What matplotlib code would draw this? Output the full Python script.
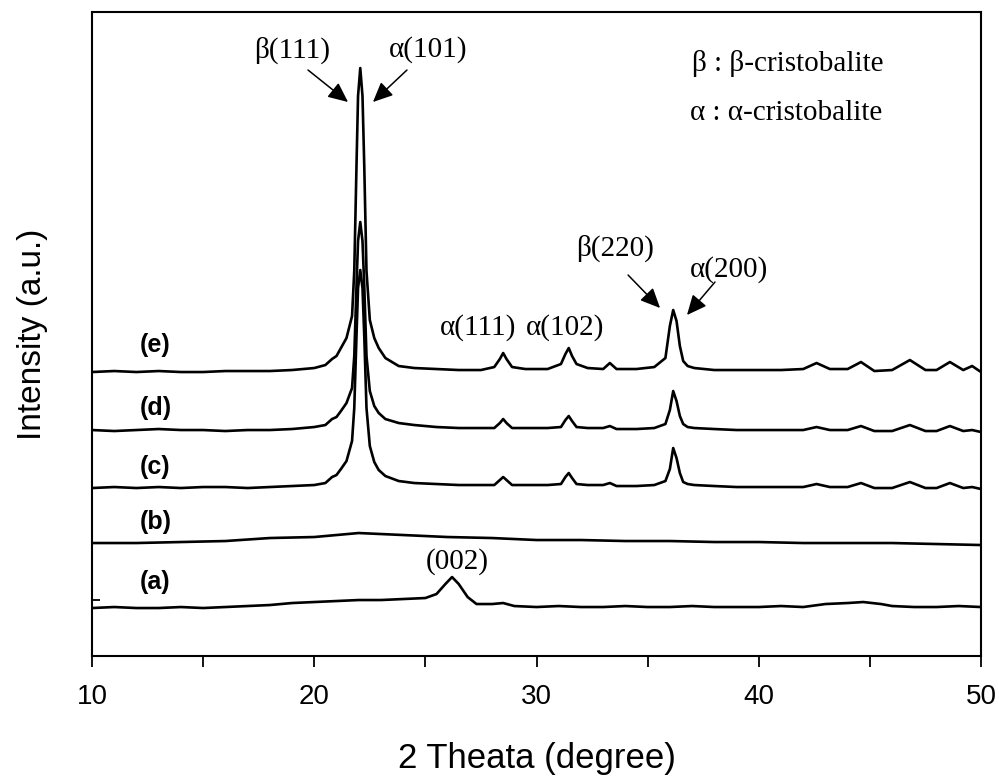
import matplotlib
matplotlib.use("Agg")
import matplotlib.pyplot as plt
from matplotlib.ticker import MultipleLocator, NullFormatter

# 2-theta grid shared by the three crystallised samples (c), (d), (e)
two_theta = [10, 11, 12, 13, 14, 15, 16, 17, 18, 19, 20,
             20.5, 20.8, 21.0, 21.2, 21.45, 21.7, 21.8, 21.9, 21.97, 22.07, 22.17, 22.25,
             22.35, 22.5, 22.7, 22.9, 23.2,
             23.8, 24.5, 25.5, 26.5, 27.5,
             28.1, 28.35, 28.5, 28.65, 28.9,
             29.5, 30.5,
             31.1, 31.3, 31.45, 31.6, 31.8,
             32.3, 33.0, 33.3, 33.6, 34.5, 35.3, 35.8,
             36.0, 36.15, 36.3, 36.45, 36.6, 36.8, 37.1,
             38, 39, 40, 41, 42,
             42.6, 43.2, 44, 44.6, 45.2, 46, 46.8, 47.5, 48, 48.6, 49.2, 49.6, 50]

int_c = [168, 169, 168, 169, 168, 169, 169, 168, 169, 170, 171,
         173, 179, 181, 187, 195, 215, 248, 320, 368, 386, 368, 320,
         248, 210, 194, 186, 180,
         175, 173, 172, 171, 171,
         171, 176, 179, 176, 171,
         171, 171,
         172, 179, 183, 178, 172,
         171, 171, 173, 170, 170, 171, 175,
         187, 208, 198, 183, 174, 172, 171,
         170, 169, 169, 169, 169,
         172, 169, 169, 173, 168, 168, 174, 168, 168, 173, 168, 169, 167]

int_d = [226, 225, 226, 227, 226, 226, 225, 226, 226, 227, 229,
         231, 237, 239, 245, 253, 268, 300, 370, 415, 434, 415, 370,
         300, 265, 250, 243, 237,
         233, 231, 229, 228, 228,
         228, 233, 237, 233, 228,
         228, 228,
         229, 236, 240, 235, 229,
         228, 228, 230, 227, 227, 228, 232,
         246, 265, 255, 240, 232, 229, 228,
         227, 226, 226, 226, 226,
         229, 226, 226, 230, 225, 225, 231, 225, 225, 230, 225, 226, 224]

int_e = [284, 285, 284, 285, 284, 284, 285, 285, 285, 286, 288,
         291, 297, 300, 308, 318, 340, 385, 490, 560, 588, 560, 490,
         385, 336, 318, 308, 298,
         290, 288, 287, 286, 286,
         289, 297, 303, 297, 289,
         287, 287,
         292, 302, 308, 300, 292,
         288, 287, 293, 287, 287, 289, 298,
         330, 346, 335, 310, 295, 290, 288,
         286, 286, 286, 286, 287,
         293, 287, 287, 294, 285, 286, 296, 286, 286, 294, 286, 290, 284]

# sample (a): graphite-like (002) reflection
two_theta_a = [10, 11, 12, 13, 14, 15, 16, 17, 18, 19, 20, 21, 22, 23, 24, 25, 25.5, 25.9, 26.2,
               26.5, 26.9, 27.3, 28, 28.5, 29, 30, 31, 32, 33, 34, 35, 36, 37, 38, 39, 40, 41,
               42, 43, 44, 44.7, 45.5, 46, 47, 48, 49, 50]
int_a = [48, 49, 48, 48, 49, 48, 49, 50, 51, 53, 54, 55, 56, 56, 57, 58, 62, 72, 79,
         72, 59, 52, 52, 53, 50, 49, 50, 49, 49, 50, 49, 49, 50, 49, 49, 49, 50,
         49, 52, 53, 54, 52, 50, 49, 49, 50, 49]

# sample (b): amorphous hump
two_theta_b = [10, 12, 14, 16, 18, 20, 22, 24, 26, 28, 30, 32, 34, 36, 38, 40, 42, 44, 46, 48, 50]
int_b = [113, 113, 114, 115, 118, 119, 123, 121, 119, 118, 116, 116, 115, 115, 114, 114,
         113, 113, 113, 112, 111]

baselines = [56, 113, 168, 226, 284]   # left-axis marks at each trace's baseline
sample_labels = ["(a)", "(b)", "(c)", "(d)", "(e)"]
label_y = [74, 134, 189, 248, 311]

fig = plt.figure(figsize=(9.99, 7.76), dpi=100)
ax = fig.add_axes([0.0921, 0.1546, 0.8899, 0.8299])

lw = 1.9
ax.plot(two_theta_a, int_a, color="black", lw=lw)
ax.plot(two_theta_b, int_b, color="black", lw=lw)
ax.plot(two_theta, int_c, color="black", lw=lw)
ax.plot(two_theta, int_d, color="black", lw=lw)
ax.plot(two_theta, int_e, color="black", lw=lw)

ax.set_xlim(10, 50)
ax.set_ylim(0, 644)
for s in ax.spines.values():
    s.set_linewidth(1.5)

ax.xaxis.set_major_locator(MultipleLocator(10))
ax.xaxis.set_minor_locator(MultipleLocator(5))
ax.xaxis.set_minor_formatter(NullFormatter())
ax.tick_params(axis="x", which="both", direction="out", length=8, width=1.3,
               labelsize=20, pad=12)
ax.set_yticks(baselines)
ax.set_yticklabels([])
ax.tick_params(axis="y", direction="in", length=6, width=1.3)
for t in ax.get_xticklabels():
    t.set_fontfamily("Liberation Sans")

ax.set_xlabel("2 Theata (degree)", fontsize=25, family="Liberation Sans", labelpad=23)
ax.set_ylabel("Intensity (a.u.)", fontsize=24, family="Liberation Sans", labelpad=28)

for lab, y in zip(sample_labels, label_y):
    ax.text(12.85, y, lab, fontsize=18, fontweight="bold", family="Liberation Sans",
            ha="center", va="center")

serif = dict(fontsize=21, family="Liberation Serif", ha="center", va="center")
ax.text(19.0, 606, "β(111)", **serif)
ax.text(25.12, 606, "α(101)", **serif)
ax.text(27.37, 328, "α(111)", **serif)
ax.text(31.28, 328, "α(102)", **serif)
ax.text(33.53, 408, "β(220)", **serif)
ax.text(38.66, 386, "α(200)", **serif)
ax.text(26.42, 94, "(002)", **serif)
ax.text(37.0, 593, "β : β-cristobalite", fontsize=21, family="Liberation Serif",
        ha="left", va="center")
ax.text(36.9, 543, "α : α-cristobalite", fontsize=21, family="Liberation Serif",
        ha="left", va="center")

arrow = dict(arrowstyle="-|>,head_length=0.55,head_width=0.25", color="black", lw=1.1,
             mutation_scale=22, shrinkA=0, shrinkB=0)
ax.annotate("", xy=(21.52, 554), xytext=(19.72, 586), arrowprops=arrow)
ax.annotate("", xy=(22.64, 554), xytext=(24.17, 586), arrowprops=arrow)
ax.annotate("", xy=(35.56, 348), xytext=(34.12, 381), arrowprops=arrow)
ax.annotate("", xy=(36.77, 341), xytext=(38.03, 374), arrowprops=arrow)

fig.savefig("out.png", dpi=100)
